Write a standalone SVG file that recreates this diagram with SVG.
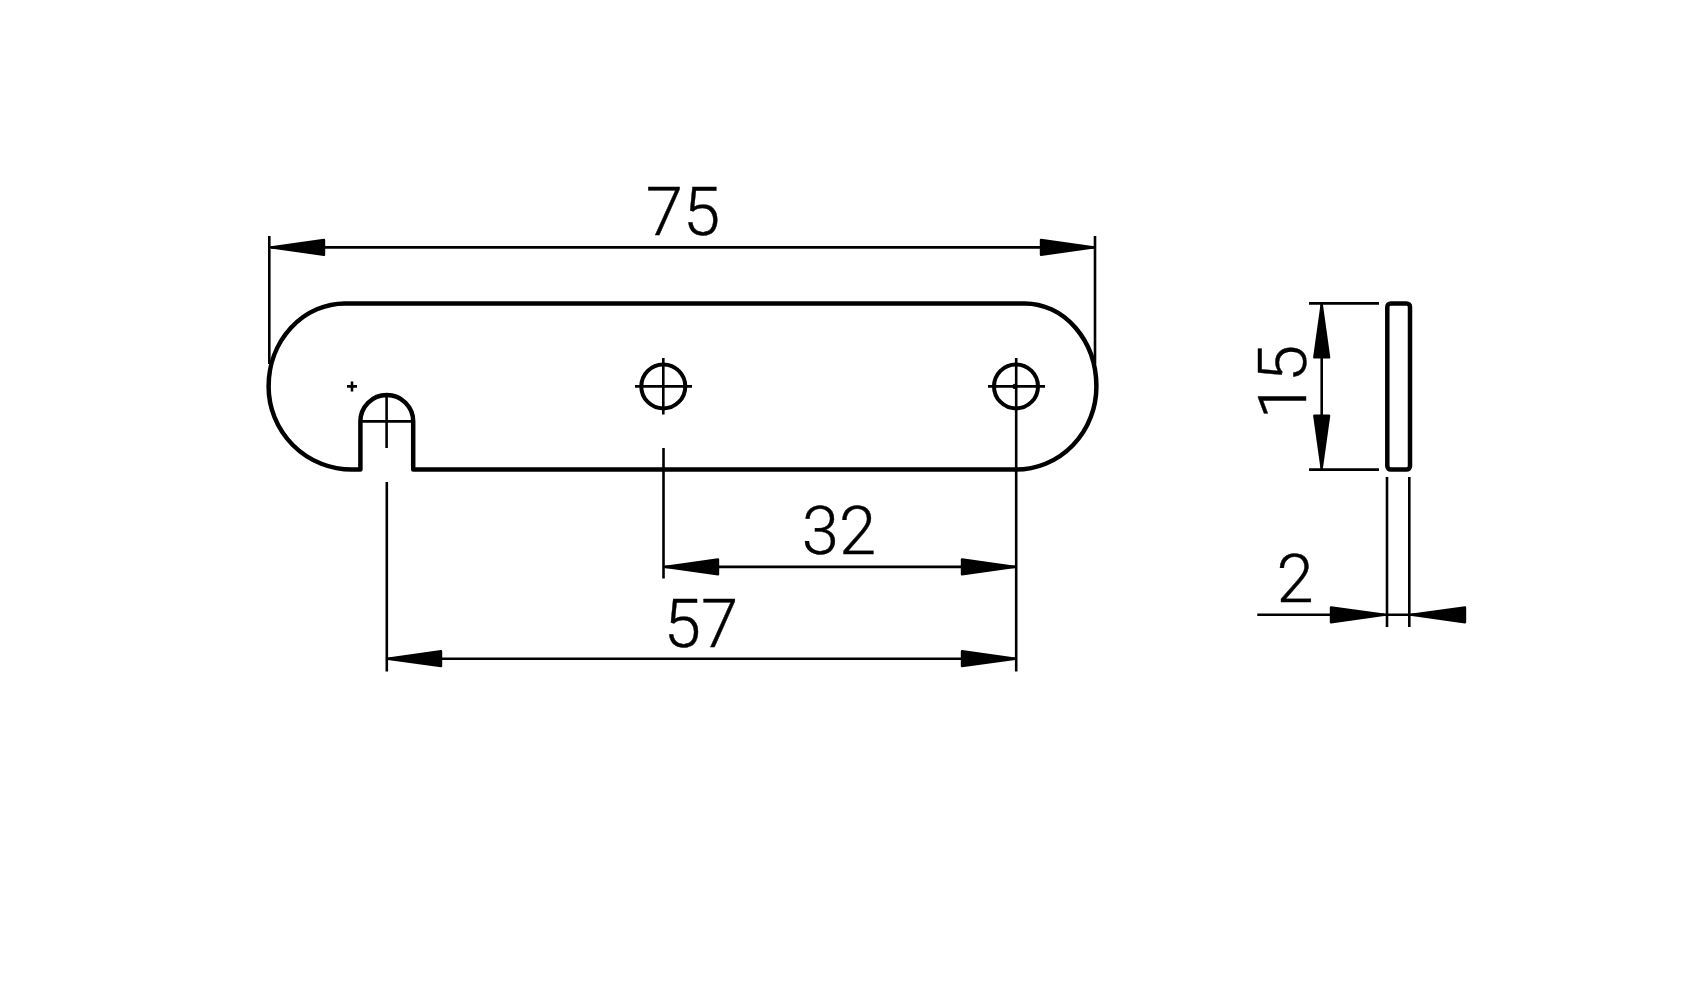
<svg xmlns="http://www.w3.org/2000/svg" width="1700" height="985" viewBox="0 0 1700 985">
<style>
.o{fill:none;stroke:#000;stroke-width:4.5;stroke-linejoin:round}
.h{fill:none;stroke:#000;stroke-width:4}
.t{fill:none;stroke:#000;stroke-width:2.6}
.a{fill:none;stroke:#000;stroke-width:2.6;marker-start:url(#ar);marker-end:url(#ar)}
.e{fill:none;stroke:#000;stroke-width:2.6;marker-end:url(#ar)}
text{font-family:Roboto,"Liberation Sans",sans-serif;font-weight:300;font-size:67px;fill:#000;stroke:#000;stroke-width:.4}
</style>
<defs>
<marker id="ar" markerUnits="userSpaceOnUse" orient="auto-start-reverse" viewBox="0 0 56 18" markerWidth="56" markerHeight="18" refX="55" refY="9">
<path d="M55 9L2 1.6V16.4Z" fill="#000" stroke="#000" stroke-width="2.4" stroke-linejoin="round"/>
</marker>
</defs>
<rect width="1700" height="985" fill="#fff"/>
<g id="plate">
<path class="o" d="M345 303.4H1025A71.4 83 0 0 1 1096.4 386.4A80.4 83.2 0 0 1 1016 469.6H413.2V421.4A26.4 26.4 0 0 0 360.4 421.4V469.6H352A83.4 83.2 0 0 1 268.6 386.4A76.4 83 0 0 1 345 303.4Z"/>
<path class="t" d="M360 421.4H414M386.6 393.4V448M347 386.4H357M352 381.4V391.4"/>
</g>
<g id="hole-middle">
<circle class="h" cx="663.3" cy="386.4" r="22"/>
<path class="t" d="M635 386.4H692M663.3 358V414.6"/>
</g>
<g id="hole-right">
<circle class="h" cx="1016" cy="386.4" r="22"/>
<path class="t" d="M988 386.4H1045"/>
<circle cx="1015" cy="386.4" r="2.6" fill="#000"/>
</g>
<g id="side-view">
<rect class="o" x="1387.3" y="303.4" width="22.7" height="166.2" rx="3.5"/>
</g>
<g id="connectors">
<path class="t" d="M269.3 236V364M1095 236V364M386.8 482V671.5M663.5 448V578.5M1016.2 358V671.5"/>
<path class="a" d="M271 247.4H1094"/>
<path class="a" d="M665 566.9H1015"/>
<path class="a" d="M388 658.7H1015"/>
<path class="t" d="M1309 303.4H1379M1309 469.6H1379M1387 477V627M1409.3 477V627M1383 614.8H1413"/>
<path class="a" d="M1321.7 304.4V468.6"/>
<path class="e" d="M1257.3 614.8H1384"/>
<path class="e" d="M1465 614.8H1412"/>
</g>
<g id="labels">
<text x="683" y="235" text-anchor="middle">75</text>
<text x="839" y="553.5" text-anchor="middle">32</text>
<text x="701" y="646.5" text-anchor="middle">57</text>
<text x="1295" y="602" text-anchor="middle">2</text>
<text transform="translate(1306 382) rotate(-90)" text-anchor="middle">15</text>
</g>
</svg>
